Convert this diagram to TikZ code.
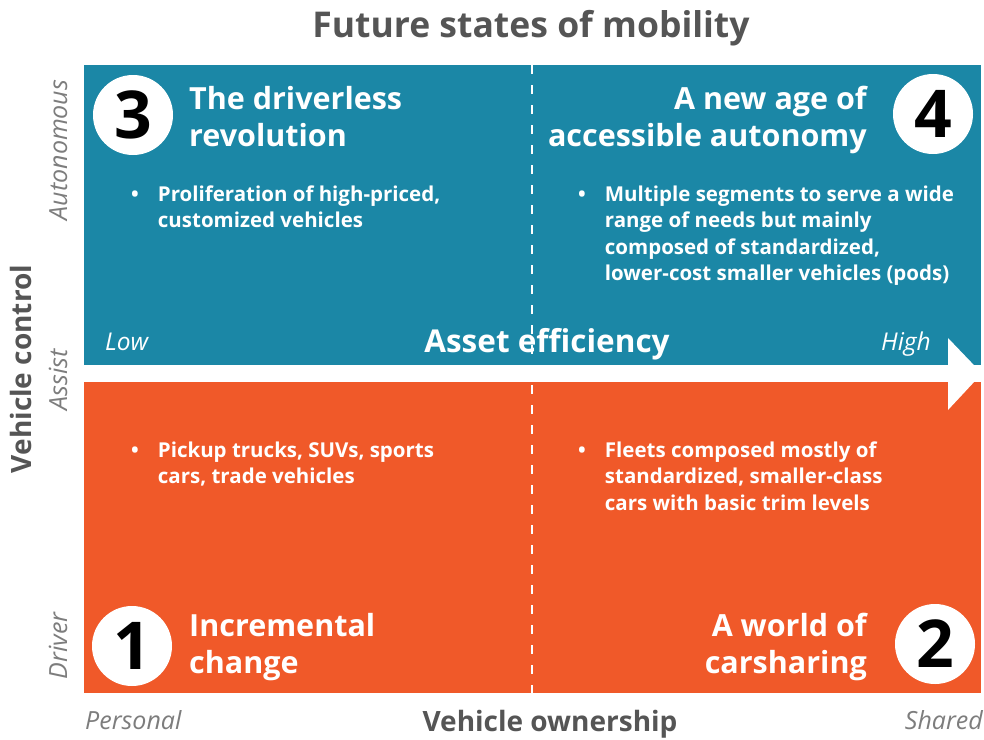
\documentclass[tikz,border=0pt]{standalone}
\usepackage{fontspec}
\setmainfont{Open Sans}
\definecolor{quadblue}{RGB}{27,135,166}
\definecolor{quadorange}{RGB}{240,89,41}
\definecolor{axisgrey}{RGB}{85,85,85}
\definecolor{softgrey}{RGB}{125,125,125}
\tikzset{
  quadhead/.style={text=white, font=\fontsize{30.5}{37}\selectfont\bfseries, inner sep=0pt},
  bulletblock/.style={text=white, font=\fontsize{20.5}{26.5}\selectfont\bfseries, inner sep=0pt, anchor=base west},
  numdisc/.style={circle, fill=white, minimum size=80pt, inner sep=0pt, text=black,
    font=\fontsize{66}{66}\selectfont\bfseries},
  sidelabel/.style={text=softgrey, font=\fontsize{25}{25}\selectfont\itshape, inner sep=0pt, anchor=base, rotate=90},
  axistitle/.style={text=axisgrey, font=\fontsize{28}{28}\selectfont\bfseries, inner sep=0pt, anchor=base},
  endlabel/.style={text=softgrey, font=\fontsize{25}{25}\selectfont\itshape, inner sep=0pt},
  scalelabel/.style={text=white, font=\fontsize{24.5}{24.5}\selectfont\itshape, inner sep=0pt},
  divider/.style={white, line width=2.2pt, dash pattern=on 9pt off 11pt},
}
\newcommand{\twolines}[2]{\begin{tabular}[t]{@{}l@{}}#1\\#2\end{tabular}}
\newcommand{\twolinesr}[2]{\begin{tabular}[t]{@{}r@{}}#1\\#2\end{tabular}}
\begin{document}
\begin{tikzpicture}[x=1pt, y=-1pt]
  \useasboundingbox (0,0) rectangle (984,739);
  \fill[white] (0,0) rectangle (984,739);

  % quadrant panels
  \fill[quadblue]   (84,65)  rectangle (981,365);
  \fill[quadorange] (84,382) rectangle (981,693);

  % ownership divider
  \coordinate (divtop) at (532,65);
  \coordinate (divbot) at (532,693);
  \draw[divider] (divtop) -- (divbot);

  % asset efficiency arrow head
  \fill[white] (948,338) -- (982,373.5) -- (948,410) -- cycle;

  % title
  \node[text=axisgrey, font=\fontsize{35.5}{35.5}\selectfont\bfseries, inner sep=0pt, anchor=base]
    (title) at (531,37) {Future states of mobility};

  % number discs
  \node[numdisc] (n3) at (133,115) {3};
  \node[numdisc] (n4) at (933,114) {4};
  \node[numdisc] (n1) at (132,646) {1};
  \node[numdisc] (n2) at (935,644) {2};

  % quadrant headings
  \node[quadhead, anchor=base west] (h3) at (189,109) {\twolines{The driverless}{revolution}};
  \node[quadhead, anchor=base east] (h4) at (867,109) {\twolinesr{A new age of}{accessible autonomy}};
  \node[quadhead, anchor=base west] (h1) at (189,636) {\twolines{Incremental}{change}};
  \node[quadhead, anchor=base east] (h2) at (867,636) {\twolinesr{A world of}{carsharing}};

  % quadrant bullets
  \node[bulletblock] (b3) at (131,201) {\begin{tabular}[t]{@{}l@{\hspace{19pt}}l@{}}
    \textbullet & Proliferation of high-priced,\\ & customized vehicles\end{tabular}};
  \node[bulletblock] (b4) at (578,201) {\begin{tabular}[t]{@{}l@{\hspace{19pt}}l@{}}
    \textbullet & Multiple segments to serve a wide\\ & range of needs but mainly\\
    & composed of standardized,\\ & lower-cost smaller vehicles (pods)\end{tabular}};
  \node[bulletblock] (b1) at (131,457) {\begin{tabular}[t]{@{}l@{\hspace{19pt}}l@{}}
    \textbullet & Pickup trucks, SUVs, sports\\ & cars, trade vehicles\end{tabular}};
  \node[bulletblock] (b2) at (578,457) {\begin{tabular}[t]{@{}l@{\hspace{19pt}}l@{}}
    \textbullet & Fleets composed mostly of\\ & standardized, smaller-class\\
    & cars with basic trim levels\end{tabular}};

  % asset efficiency scale
  \node[scalelabel, anchor=base west] (low) at (105,350) {Low};
  \node[scalelabel, anchor=base east] (high) at (931,350) {High};
  \node[text=white, font=\fontsize{31.5}{31.5}\selectfont\bfseries, inner sep=0pt, anchor=base]
    (eff) at (547,352) {Asset efficiency};

  % vehicle control axis
  \node[axistitle, rotate=90] (vc) at (31,369) {Vehicle control};
  \node[sidelabel] (auto) at (67,150) {Autonomous};
  \node[sidelabel] (assist) at (67,380) {Assist};
  \node[sidelabel] (driver) at (67,646) {Driver};

  % vehicle ownership axis
  \node[axistitle] (vo) at (550,731) {Vehicle ownership};
  \node[endlabel, anchor=base west] (pers) at (85,729) {Personal};
  \node[endlabel, anchor=base east] (shared) at (983,729) {Shared};
\end{tikzpicture}
\end{document}
